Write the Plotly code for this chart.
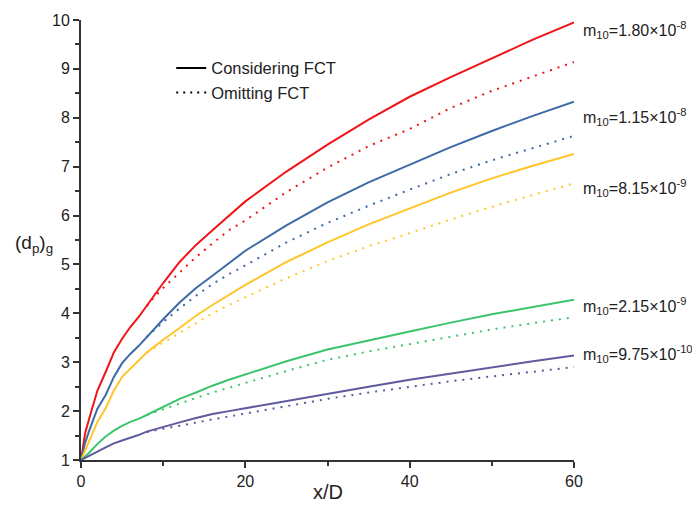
import plotly.graph_objects as go

# ---- data ----
x_full = [0, 0.5, 1, 2, 3, 4, 5, 6, 7, 8, 9, 10, 12, 14, 16, 18, 20, 25, 30, 35, 40, 45, 50, 55, 60]

red_solid = [1.0, 1.55, 1.85, 2.42, 2.80, 3.20, 3.48, 3.72, 3.92, 4.15, 4.40, 4.62, 5.05, 5.40, 5.70, 6.00, 6.29, 6.90, 7.45, 7.96, 8.43, 8.83, 9.22, 9.60, 9.95]
blue_solid = [1.0, 1.35, 1.60, 2.05, 2.33, 2.70, 2.98, 3.17, 3.33, 3.52, 3.70, 3.88, 4.22, 4.52, 4.77, 5.03, 5.28, 5.80, 6.27, 6.68, 7.04, 7.40, 7.73, 8.04, 8.33]
yellow_solid = [1.0, 1.20, 1.40, 1.78, 2.06, 2.42, 2.70, 2.87, 3.03, 3.20, 3.33, 3.46, 3.70, 3.95, 4.17, 4.38, 4.58, 5.05, 5.45, 5.82, 6.15, 6.47, 6.76, 7.02, 7.26]
green_solid = [1.0, 1.07, 1.15, 1.33, 1.48, 1.60, 1.70, 1.78, 1.84, 1.92, 2.00, 2.08, 2.25, 2.38, 2.52, 2.64, 2.75, 3.02, 3.26, 3.45, 3.63, 3.81, 3.98, 4.13, 4.28]
purple_solid = [1.0, 1.04, 1.08, 1.17, 1.26, 1.34, 1.40, 1.45, 1.51, 1.58, 1.63, 1.68, 1.77, 1.86, 1.94, 2.00, 2.06, 2.21, 2.35, 2.50, 2.64, 2.77, 2.90, 3.02, 3.14]

x_dot = [8, 9, 10, 12, 14, 16, 18, 20, 25, 30, 35, 40, 45, 50, 55, 60]
red_dot = [4.15, 4.35, 4.52, 4.83, 5.15, 5.43, 5.70, 5.90, 6.48, 6.98, 7.42, 7.77, 8.20, 8.55, 8.85, 9.14]
blue_dot = [3.52, 3.68, 3.82, 4.10, 4.36, 4.60, 4.80, 4.98, 5.45, 5.85, 6.20, 6.53, 6.85, 7.13, 7.38, 7.63]
yellow_dot = [3.20, 3.30, 3.40, 3.60, 3.80, 4.00, 4.17, 4.33, 4.72, 5.07, 5.37, 5.64, 5.92, 6.18, 6.42, 6.66]
green_dot = [1.92, 1.98, 2.04, 2.15, 2.27, 2.38, 2.48, 2.58, 2.82, 3.05, 3.22, 3.37, 3.52, 3.67, 3.80, 3.92]
purple_dot = [1.57, 1.61, 1.64, 1.70, 1.77, 1.83, 1.89, 1.95, 2.11, 2.25, 2.38, 2.50, 2.61, 2.71, 2.81, 2.90]

labels = ["m<sub>10</sub>=1.80×10<sup>-8</sup>",
          "m<sub>10</sub>=1.15×10<sup>-8</sup>",
          "m<sub>10</sub>=8.15×10<sup>-9</sup>",
          "m<sub>10</sub>=2.15×10<sup>-9</sup>",
          "m<sub>10</sub>=9.75×10<sup>-10</sup>"]
label_y = [9.80, 8.02, 6.57, 4.14, 3.16]

colors = ["#f01418", "#3c6aa6", "#ffc629", "#3cc46c", "#5e5a9e"]
solids = [red_solid, blue_solid, yellow_solid, green_solid, purple_solid]
dots = [red_dot, blue_dot, yellow_dot, green_dot, purple_dot]

FONT = "Liberation Sans, Arial, sans-serif"

fig = go.Figure()
for c, s, d in zip(colors, solids, dots):
    fig.add_trace(go.Scatter(x=x_dot, y=d, mode="lines", showlegend=False,
                             line=dict(color=c, width=2, dash="2px,6px"), hoverinfo="skip"))
    fig.add_trace(go.Scatter(x=x_full, y=s, mode="lines", showlegend=False,
                             line=dict(color=c, width=2), hoverinfo="skip"))

# legend entries
fig.add_trace(go.Scatter(x=[None], y=[None], mode="lines", name="Considering FCT",
                         line=dict(color="black", width=2)))
fig.add_trace(go.Scatter(x=[None], y=[None], mode="lines", name="Omitting FCT",
                         line=dict(color="black", width=2, dash="2px,5px")))

for t, yv in zip(labels, label_y):
    fig.add_annotation(text=t, x=1.014, xref="paper", y=yv, yref="y",
                       xanchor="left", yanchor="middle", showarrow=False,
                       font=dict(size=16, color="#222", family=FONT))

fig.add_annotation(text="(d<sub>p</sub>)<sub>g</sub>", x=-0.095, xref="paper", y=5.42, yref="y",
                   xanchor="center", yanchor="middle", showarrow=False,
                   font=dict(size=19, color="#222", family=FONT))

fig.add_annotation(text="x/D", x=30, xref="x", y=-0.073, yref="paper",
                   xanchor="center", yanchor="middle", showarrow=False,
                   font=dict(size=20, color="#222", family=FONT))

# page has an 8px body margin; margins compensate so the plot area sits where the reference has it
fig.update_layout(
    width=700, height=514,
    margin=dict(l=73, r=134, t=12, b=62),
    plot_bgcolor="white", paper_bgcolor="white",
    font=dict(family=FONT, size=15, color="#222"),
    legend=dict(x=0.183, y=0.93, xanchor="left", yanchor="top",
                bgcolor="rgba(0,0,0,0)", font=dict(size=16.5, color="#222", family=FONT),
                tracegroupgap=0, itemwidth=30),
)
fig.update_xaxes(range=[0, 60], dtick=20, tick0=0, showgrid=False, zeroline=False,
                 showline=True, linecolor="#333", linewidth=2, automargin=False,
                 ticks="outside", ticklen=6, tickwidth=2, tickcolor="#333",
                 minor=dict(dtick=10, ticks="outside", ticklen=4, tickwidth=2, tickcolor="#333"),
                 tickfont=dict(size=16, family=FONT, color="#222"))
fig.update_yaxes(range=[1, 10], dtick=1, tick0=1, showgrid=False, zeroline=False,
                 showline=True, linecolor="#333", linewidth=2, automargin=False,
                 ticks="outside", ticklen=6, tickwidth=2, tickcolor="#333",
                 minor=dict(dtick=0.5, ticks="outside", ticklen=4, tickwidth=2, tickcolor="#333"),
                 tickfont=dict(size=16, family=FONT, color="#222"))

fig.write_html("out.html")
